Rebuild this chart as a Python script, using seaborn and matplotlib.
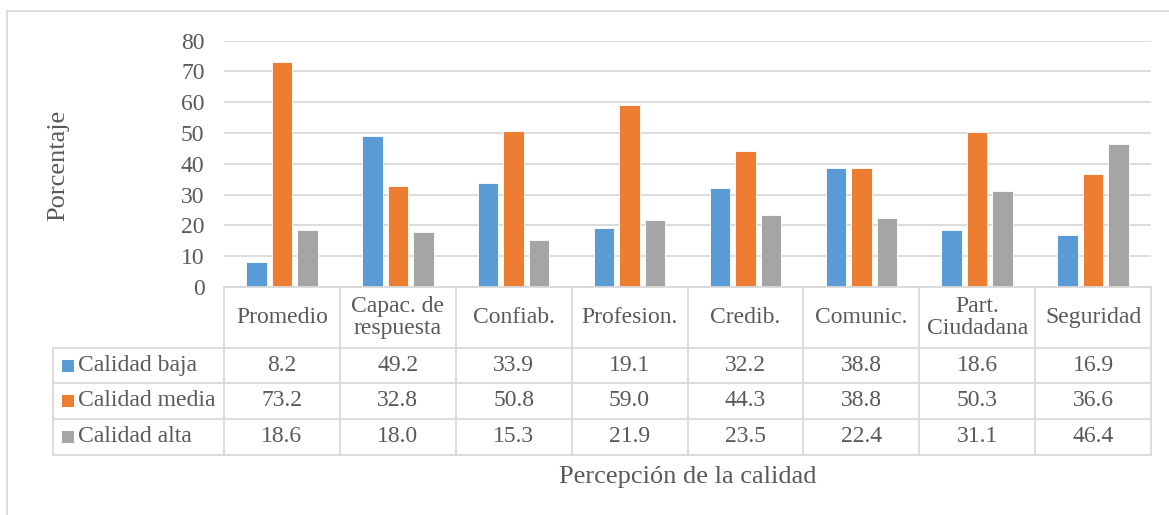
import numpy as np
import pandas as pd
import matplotlib
matplotlib.use("Agg")
import matplotlib.pyplot as plt
import matplotlib.transforms as mtransforms
from matplotlib.lines import Line2D
from matplotlib.patches import Rectangle
import seaborn as sns

# Data
categorias = ["Promedio", "Capac. de\nrespuesta", "Confiab.", "Profesion.",
              "Credib.", "Comunic.", "Part.\nCiudadana", "Seguridad"]
series = ["Calidad baja", "Calidad media", "Calidad alta"]
calidad_baja = [8.2, 49.2, 33.9, 19.1, 32.2, 38.8, 18.6, 16.9]
calidad_media = [73.2, 32.8, 50.8, 59.0, 44.3, 38.8, 50.3, 36.6]
calidad_alta = [18.6, 18.0, 15.3, 21.9, 23.5, 22.4, 31.1, 46.4]
yticks = [0, 10, 20, 30, 40, 50, 60, 70, 80]
colores = ["#5B9BD5", "#ED7D31", "#A5A5A5"]

valores = [calidad_baja, calidad_media, calidad_alta]
df = pd.DataFrame({
    "categoria": np.tile(categorias, len(series)),
    "serie": np.repeat(series, len(categorias)),
    "valor": np.concatenate(valores),
})

sns.set_theme(style="white")
plt.rcParams["font.family"] = ["Liberation Serif", "DejaVu Serif"]
TXT = "#595959"
GRID = "#D9D9D9"

W, H = 1169, 515
fig = plt.figure(figsize=(W / 100, H / 100), dpi=100)
fig.patch.set_facecolor("white")

def fx(px):
    return px / W

def fy(py):
    return 1 - py / H

x0, x1, y0, y1 = 224, 1151, 287, 40.7
ax = fig.add_axes([fx(x0), fy(y0), fx(x1) - fx(x0), fy(y1) - fy(y0)])

sns.barplot(data=df, x="categoria", y="valor", hue="serie", order=categorias,
            hue_order=series, palette=colores, width=0.66, gap=0.2,
            edgecolor="white", linewidth=0.6, saturation=1, ax=ax, zorder=3)
if ax.legend_ is not None:
    ax.legend_.remove()

ax.set_xlim(-0.5, len(categorias) - 0.5)
ax.set_ylim(0, 80)
ax.set_yticks(yticks)
ax.set_yticklabels([str(t) for t in yticks], fontsize=17, color=TXT)
ax.tick_params(axis="y", length=0, pad=14)
ax.set_xticks([])
ax.set_xlabel("")
ax.set_ylabel("")
ax.yaxis.grid(True, color=GRID, linewidth=1.3, zorder=0)
ax.set_axisbelow(True)
for s in ax.spines.values():
    s.set_visible(False)
ax.set_facecolor("none")

# Outer chart frame
fig.add_artist(Line2D([fx(7), fx(7)], [fy(11), 0], color=GRID, lw=1.3))
fig.add_artist(Line2D([fx(7), 1], [fy(11), fy(11)], color=GRID, lw=1.3))

# Data table below the plot area
trans = mtransforms.blended_transform_factory(ax.transData, fig.transFigure)
n = len(categorias)
rows_y = [287, 348, 383, 419, 455]
lw = 1.3

# horizontal rules
fig.add_artist(Line2D([-0.5, n - 0.5], [fy(287), fy(287)], transform=trans,
                      color=GRID, lw=lw))
for ry in rows_y[1:]:
    fig.add_artist(Line2D([fx(53), fx(x1)], [fy(ry), fy(ry)], color=GRID, lw=lw))
# vertical rules
for i in range(n + 1):
    fig.add_artist(Line2D([i - 0.5, i - 0.5], [fy(287), fy(455)], transform=trans,
                          color=GRID, lw=lw))
fig.add_artist(Line2D([fx(53), fx(53)], [fy(348), fy(455)], color=GRID, lw=lw))

# header labels
for i, cat in enumerate(categorias):
    fig.text(i, fy(317.5), cat, transform=trans, ha="center", va="center",
             fontsize=17, color=TXT, linespacing=1.12)

# values and legend keys
centers = [(rows_y[k] + rows_y[k + 1]) / 2 for k in range(1, 4)]
for k, (nombre, vals, col) in enumerate(zip(series, valores, colores)):
    cy = centers[k]
    fig.add_artist(Rectangle((fx(61.5), fy(cy + 6)), fx(12), 12 / H,
                             facecolor=col, edgecolor="none"))
    fig.text(fx(78), fy(cy), nombre, ha="left", va="center", fontsize=17, color=TXT)
    for i, v in enumerate(vals):
        fig.text(i, fy(cy), f"{v:.1f}", transform=trans, ha="center", va="center",
                 fontsize=17, color=TXT)

# axis titles
fig.text(fx(688), fy(477), "Percepción de la calidad", ha="center", va="center",
         fontsize=19, color=TXT)
fig.text(fx(58), fy(165), "Porcentaje", ha="center", va="center", rotation=90,
         fontsize=19, color=TXT)

fig.savefig("out.png", dpi=100, facecolor="white")
